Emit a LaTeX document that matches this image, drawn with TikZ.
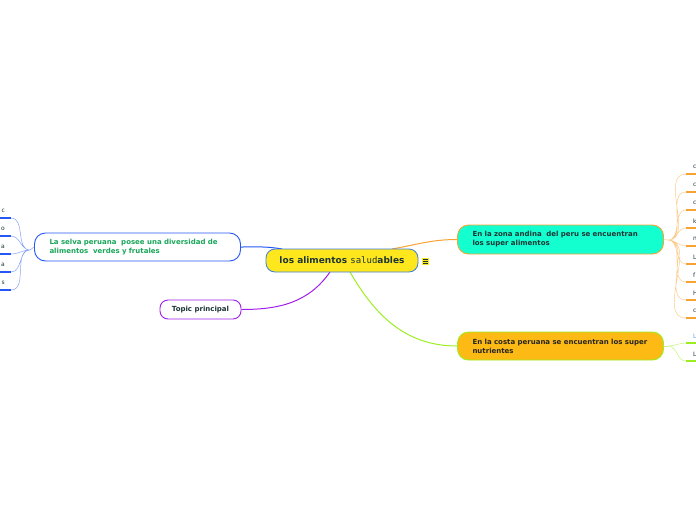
\documentclass[tikz,border=0pt]{standalone}
\usepackage{fontspec}
\setmainfont{DejaVu Sans}
\setmonofont{DejaVu Sans Mono}
\usetikzlibrary{positioning}
\definecolor{sol}{HTML}{FFE71E}
\definecolor{cielo}{HTML}{3C7DDC}
\definecolor{selva}{HTML}{2457F5}
\definecolor{hoja}{HTML}{19A65A}
\definecolor{uva}{HTML}{A11EEB}
\definecolor{menta}{HTML}{14FFD0}
\definecolor{naranja}{HTML}{F7A233}
\definecolor{mango}{HTML}{FDB914}
\definecolor{lima}{HTML}{9CEE22}
\definecolor{tinta}{HTML}{1E3535}

\begin{document}
\begin{tikzpicture}[x=1pt, y=-1pt,
    topic/.style={draw, line width=0.9pt, rounded corners=11pt, inner xsep=15pt, inner ysep=0pt,
      font=\fontsize{7}{9}\selectfont\bfseries, align=left, text width=176pt, minimum height=28pt},
    leaf/.style={font=\fontsize{6}{7}\selectfont, text=tinta, inner sep=0pt},
    rama/.style={line width=0.5pt},
    base/.style={line width=1.1pt}]
  \useasboundingbox (0,0) rectangle (696,520);
  % ramas principales
  \node[topic, fill=white, draw=selva, text=hoja] (selva) at (137.5,247)
    {La selva peruana \ posee una diversidad de\\alimentos \ verdes y frutales};
  \node[draw=uva, line width=0.9pt, rounded corners=8pt, fill=white, text=tinta,
    font=\fontsize{7}{9}\selectfont\bfseries, minimum width=81pt, minimum height=19pt, inner sep=0pt]
    (principal) at (200.5,309.5) {Topic principal};
  \node[topic, fill=menta, draw=naranja, text=tinta, minimum height=29pt] (andina) at (560.5,239.5)
    {En la zona andina \ del peru se encuentran\\los super alimentos};
  \node[topic, fill=mango, draw=lima, text=black!85] (costa) at (560.5,346)
    {En la costa peruana se encuentran los super\\nutrientes};
  % conectores al centro
  \coordinate (cA) at (392,249);
  \coordinate (cS) at (282,249);
  \coordinate (cP) at (330,272);
  \coordinate (cC) at (350,272);
  \draw[selva, line width=1pt] (cS) to[out=170,in=0] (selva.east);
  \draw[uva, line width=1pt] (cP) to[out=235,in=0] (principal.east);
  \draw[naranja, line width=1pt] (cA) to[out=10,in=180] (andina.west);
  \draw[lima, line width=1pt] (cC) to[out=300,in=180] (costa.west);
  % tema central
  \node[draw=cielo, line width=0.8pt, fill=sol, rounded corners=9pt, minimum width=152pt,
    minimum height=23pt, inner sep=0pt, font=\fontsize{9}{10}\selectfont\bfseries, text=tinta]
    (centro) at (342,260.5) {los alimentos {\mdseries\ttfamily salud}ables};
  \node[fill=sol, minimum size=7pt, inner sep=0pt] (nota) at (425.5,261) {};
  \draw[tinta, line width=0.5pt] (423.3,259) -- (427.7,259) (423.3,261) -- (427.7,261) (423.3,263) -- (427.7,263);
  % hojas de la zona andina
  \node[leaf, anchor=west] (r1) at (693,167) {c};
  \node[leaf, anchor=west] (r2) at (693,185) {c};
  \node[leaf, anchor=west] (r3) at (693,203) {c};
  \node[leaf, anchor=west] (r4) at (693,221) {k};
  \node[leaf, anchor=west] (r5) at (693,239) {n};
  \node[leaf, anchor=west] (r6) at (693,257) {L};
  \node[leaf, anchor=west] (r7) at (693,275) {f};
  \node[leaf, anchor=west] (r8) at (693,293) {H};
  \node[leaf, anchor=west] (r9) at (693,311) {c};
  \coordinate (rj) at (668,240);
  \draw[naranja!55, rama] (andina.east) -- (rj);
  \draw[naranja!55, rama] (rj) to[out=0,in=180] (686,174) (rj) to[out=0,in=180] (686,192)
    (rj) to[out=0,in=180] (686,210) (rj) to[out=0,in=180] (686,228) (rj) to[out=0,in=180] (686,246)
    (rj) to[out=0,in=180] (686,264) (rj) to[out=0,in=180] (686,282) (rj) to[out=0,in=180] (686,300)
    (rj) to[out=0,in=180] (686,318);
  \draw[naranja, base] (686,174) -- ++(12,0)
    (686,192) -- ++(12,0) (686,210) -- ++(12,0) (686,228) -- ++(12,0) (686,246) -- ++(12,0)
    (686,264) -- ++(12,0) (686,282) -- ++(12,0) (686,300) -- ++(12,0) (686,318) -- ++(12,0);
  % hojas de la costa
  \node[leaf, anchor=west, text=cielo!80] (k1) at (693,336) {L};
  \node[leaf, anchor=west] (k2) at (693,354) {L};
  \coordinate (kj) at (668,346);
  \draw[lima!60, rama] (costa.east) -- (kj);
  \draw[lima!60, rama] (kj) to[out=0,in=180] (686,343) (kj) to[out=0,in=180] (686,361);
  \draw[lima, base] (686,343) -- ++(12,0) (686,361) -- ++(12,0);
  % hojas de la selva
  \node[leaf, anchor=east] (l1) at (5,211) {c};
  \node[leaf, anchor=east] (l2) at (5,229) {o};
  \node[leaf, anchor=east] (l3) at (5,247) {a};
  \node[leaf, anchor=east] (l4) at (5,265) {a};
  \node[leaf, anchor=east] (l5) at (5,283) {s};
  \coordinate (lj) at (30,250);
  \draw[selva!55, rama] (selva.west) -- (lj);
  \draw[selva!55, rama] (lj) to[out=180,in=0] (11,218) (lj) to[out=180,in=0] (11,236)
    (lj) to[out=180,in=0] (11,254) (lj) to[out=180,in=0] (11,272) (lj) to[out=180,in=0] (11,290);
  \draw[selva, base] (11,218) -- ++(-12,0) (11,236) -- ++(-12,0) (11,254) -- ++(-12,0)
    (11,272) -- ++(-12,0) (11,290) -- ++(-12,0);
\end{tikzpicture}
\end{document}
